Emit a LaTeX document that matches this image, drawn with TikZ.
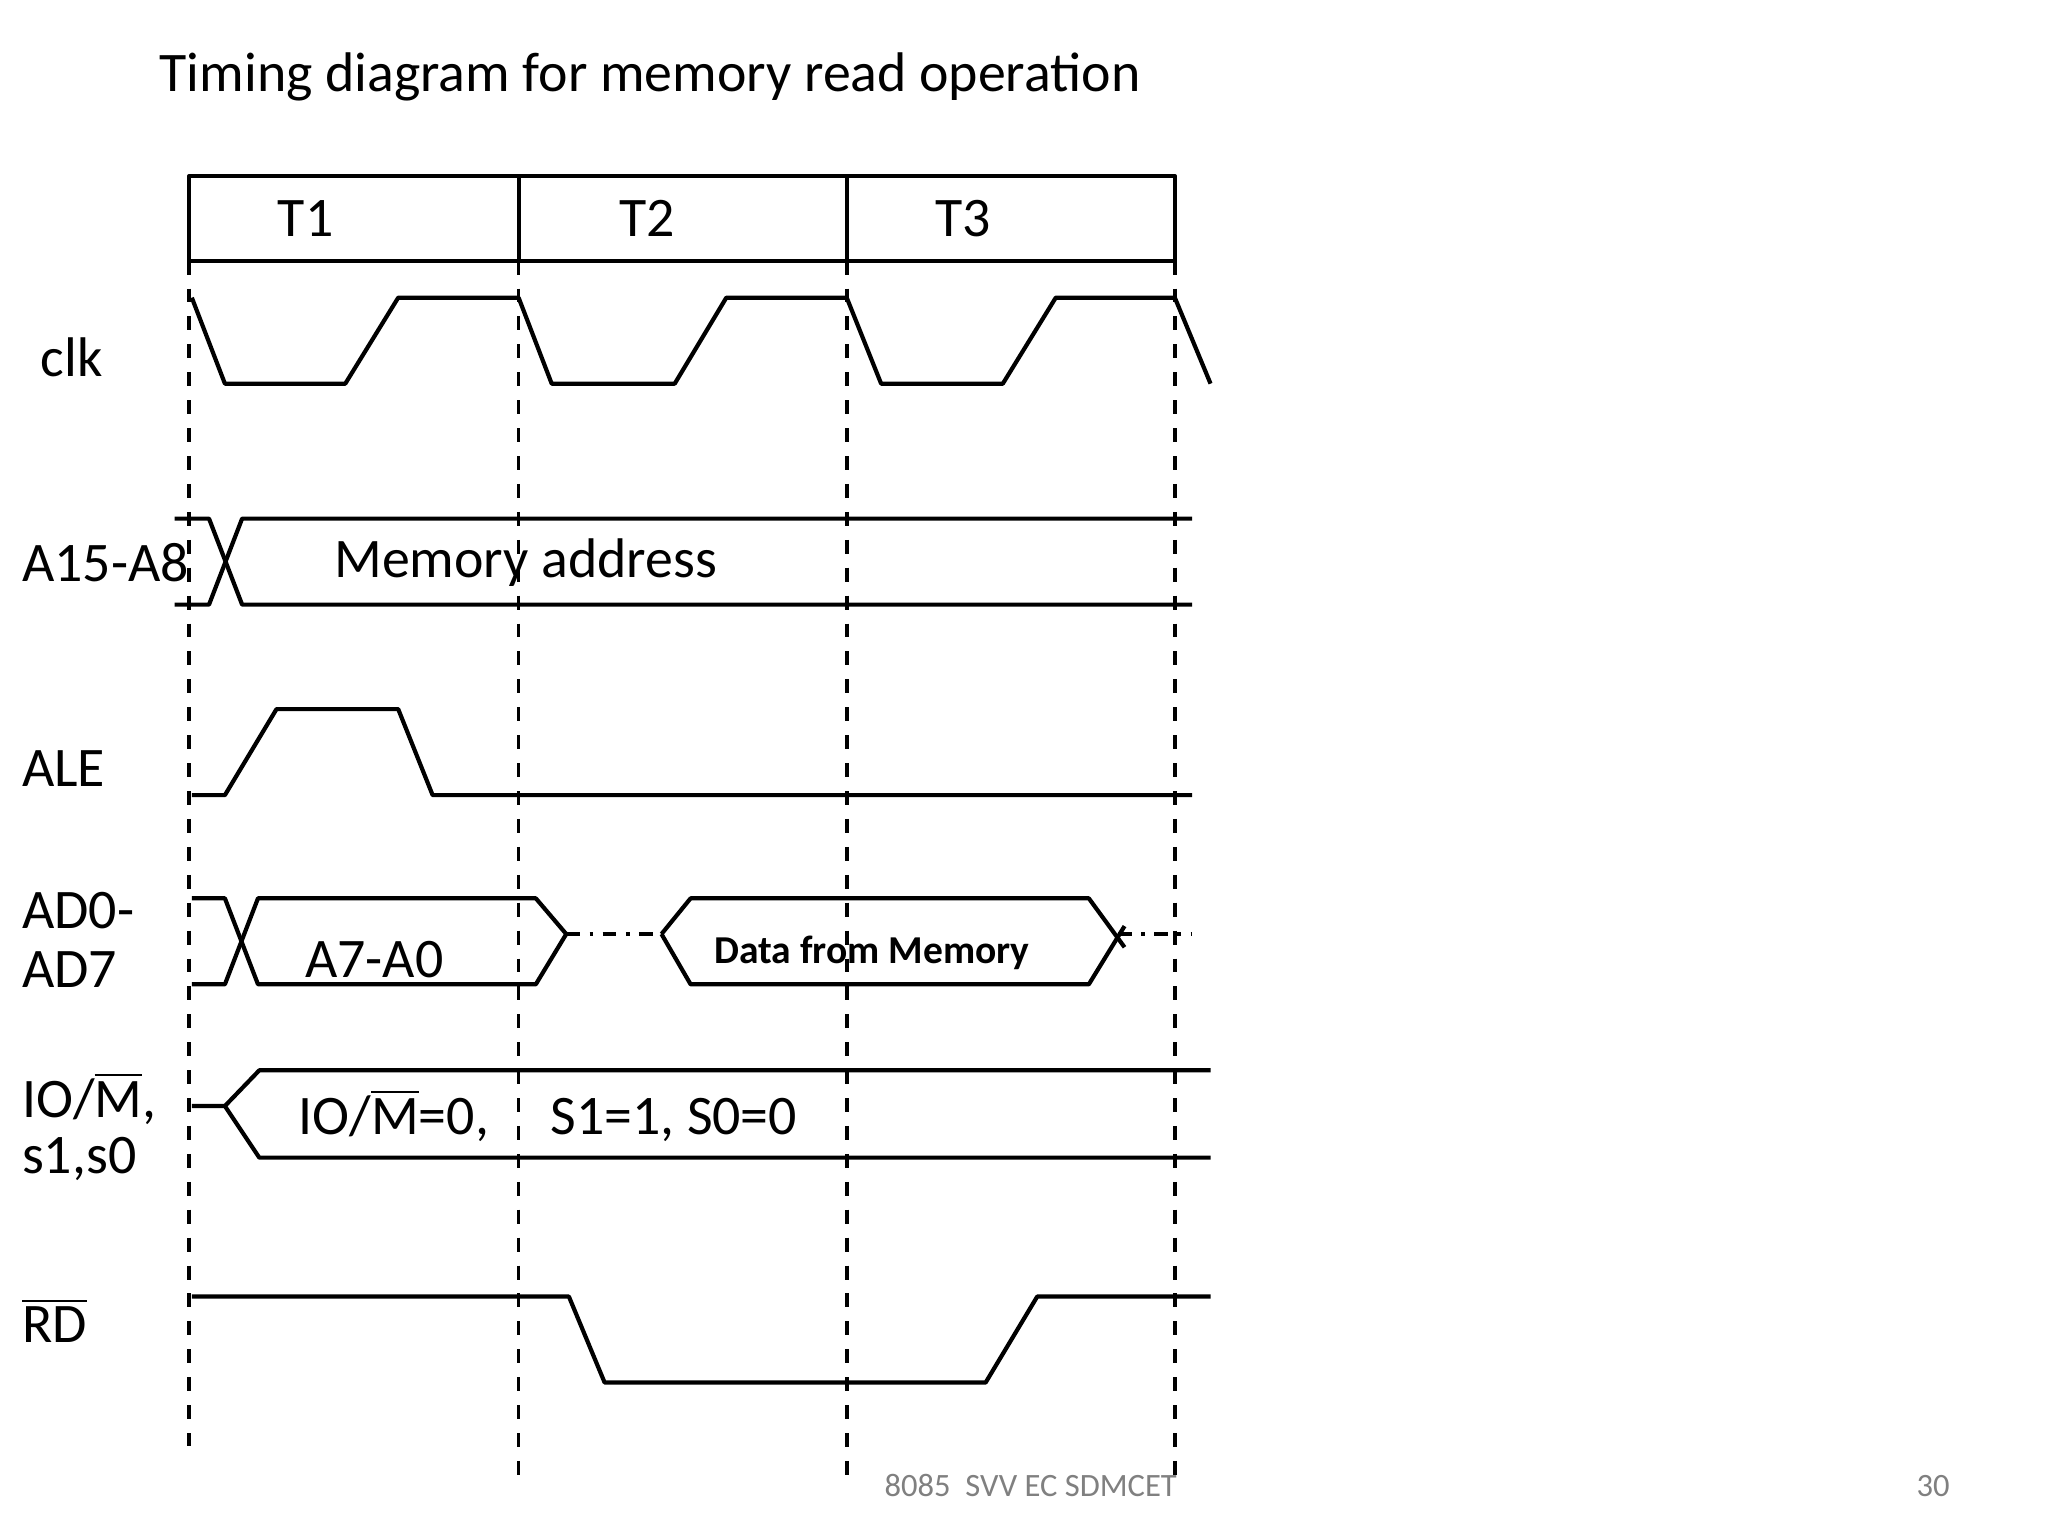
\documentclass[tikz,border=0pt]{standalone}
\usepackage{fontspec}
\setmainfont{Carlito}
\begin{document}
\begin{tikzpicture}[x=0.01cm,y=-0.01cm,
  wave/.style={line width=0.9pt,line join=round},
  grid/.style={dashed,line width=0.8pt},
  lbl/.style={anchor=west,inner sep=0pt,font=\fontsize{12}{14}\selectfont},
  ctr/.style={inner sep=0pt,font=\fontsize{12}{14}\selectfont}]
\useasboundingbox (0,0) rectangle (1548,1161);
\fill[white] (0,0) rectangle (1548,1161);
\node[lbl] (title) at (120,58) {Timing diagram for memory read operation};
% header
\draw[wave] (143,133) rectangle (888,197);
\draw[wave] (392,133) -- (392,197) (640,133) -- (640,197);
\node[ctr] (t1) at (231,165) {T1};
\node[ctr] (t2) at (489,165) {T2};
\node[ctr] (t3) at (728,165) {T3};
% grid lines
\draw[grid] (143,197) -- (143,1093);
\draw[grid] (392,197) -- (392,1120);
\draw[grid] (640,197) -- (640,1120);
\draw[grid] (888,197) -- (888,1115);
% clk
\node[lbl] (lclk) at (30,270) {clk};
\draw[wave] (145,225) -- (170,290) -- (261,290) -- (301,225) -- (392,225) -- (417,290) -- (510,290) -- (549,225) -- (640,225) -- (666,290) -- (758,290) -- (798,225) -- (888,225) -- (915,290);
% A15-A8
\node[lbl] (la) at (16,425) {A15-A8};
\draw[wave] (132,392) -- (158,392) -- (183,457) -- (901,457);
\draw[wave] (132,457) -- (158,457) -- (183,392) -- (901,392);
\node[lbl] (madr) at (252,425) {Memory address};
% ALE
\node[lbl] (lale) at (16,581) {ALE};
\draw[wave] (145,601) -- (170,601) -- (209,536) -- (301,536) -- (327,601) -- (901,601);
% AD0-AD7
\node[lbl] (lad0) at (16,688) {AD0-};
\node[lbl] (lad7) at (16,733) {AD7};
\draw[wave] (145,679) -- (170,679) -- (195,744) -- (405,744) -- (428,706);
\draw[wave] (145,744) -- (170,744) -- (195,679) -- (405,679) -- (428,706);
\draw[line width=0.8pt,dash dot] (428,706) -- (500,706);
\draw[wave] (500,706) -- (522,679) -- (823,679) -- (850,716);
\draw[wave] (500,706) -- (522,744) -- (823,744) -- (850,700);
\draw[line width=0.8pt,dash dot] (845,706) -- (901,706);
\node[lbl] (a7) at (230,725) {A7-A0};
\node[ctr,font=\fontsize{8.5}{10}\bfseries] (data) at (659,720) {Data from Memory};
% IO/M
\node[lbl] (lio) at (16,830) {IO/$\overline{\mbox{M}}$,};
\node[lbl] (ls) at (16,876) {s1,s0};
\draw[wave] (145,836) -- (170,836) -- (196,809) -- (915,809);
\draw[wave] (170,836) -- (196,875) -- (915,875);
\node[lbl] (iotxt) at (225,843) {IO/$\overline{\mbox{M}}$=0,\hspace{1.1em}S1=1, S0=0};
% RD
\node[lbl] (lrd) at (16,998) {$\overline{\mbox{RD}}$};
\draw[wave] (145,980) -- (430,980) -- (457,1045) -- (745,1045) -- (784,980) -- (915,980);
% footer
\node[lbl,font=\fontsize{7}{8}\selectfont,text=gray] (foot) at (668,1123) {8085\ \ SVV EC SDMCET};
\node[lbl,font=\fontsize{7}{8}\selectfont,text=gray] (pg) at (1448,1123) {30};
\end{tikzpicture}
\end{document}
